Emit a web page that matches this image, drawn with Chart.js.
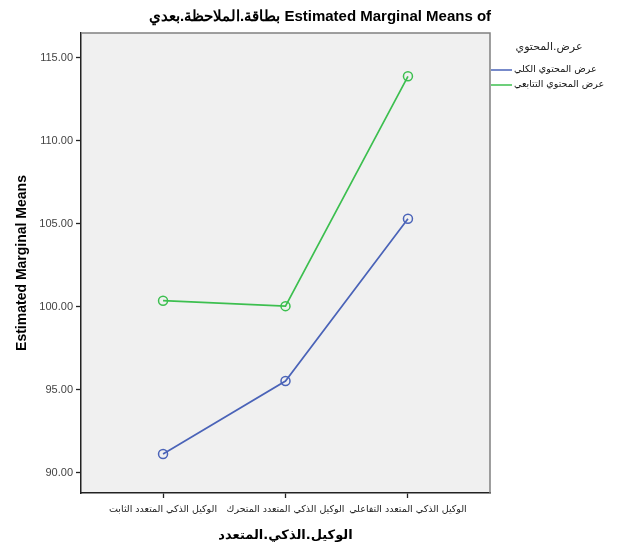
<!DOCTYPE html>
<html>
<head>
<meta charset="utf-8">
<script src="https://cdn.jsdelivr.net/npm/chart.js@4"></script>
<style>
  body { margin: 0; background: #fff; }
  #wrap { width: 619px; height: 547px; }
</style>
</head>
<body>
<div id="wrap"><canvas id="lineChart" width="619" height="547"></canvas></div>
<script>
// data
const categories = ['الوكيل الذكي المتعدد الثابت', 'الوكيل الذكي المتعدد المتحرك', 'الوكيل الذكي المتعدد التفاعلي'];
const seriesNames = ['عرض المحتوي الكلي', 'عرض المحتوي التتابعي'];
const totalValues = [91.12, 95.52, 105.3];
const sequentialValues = [100.36, 100.03, 113.88];
const yTicks = [90, 95, 100, 105, 110, 115];
const chartTitle = 'Estimated Marginal Means of بطاقة.الملاحظة.بعدي';
const legendTitle = 'عرض.المحتوي';
const xTitle = 'الوكيل.الذكي.المتعدد';
const yTitle = 'Estimated Marginal Means';

const colors = ['#4a63b8', '#3cbf4f'];

// plot background, frame, title, legend
const decor = {
  id: 'decor',
  beforeDraw(chart) {
    const a = chart.chartArea, ctx = chart.ctx;
    ctx.save();
    ctx.fillStyle = '#f0f0f0';
    ctx.fillRect(a.left, a.top, a.right - a.left, a.bottom - a.top);
    ctx.restore();
  },
  afterDraw(chart) {
    const a = chart.chartArea, ctx = chart.ctx;
    ctx.save();
    ctx.strokeStyle = '#808080';
    ctx.lineWidth = 1.5;
    ctx.beginPath();
    ctx.moveTo(a.left, a.top);
    ctx.lineTo(a.right, a.top);
    ctx.lineTo(a.right, a.bottom);
    ctx.stroke();

    ctx.fillStyle = '#000';
    ctx.font = 'bold 15px "Liberation Sans", Arial, sans-serif';
    ctx.direction = 'rtl';
    ctx.textAlign = 'center';
    ctx.textBaseline = 'middle';
    ctx.fillText(chartTitle, 320, 17);

    ctx.font = '11px "DejaVu Sans", sans-serif';
    ctx.fillStyle = '#222';
    ctx.fillText(legendTitle, 549, 47);

    ctx.font = '9.5px "DejaVu Sans", sans-serif';
    ctx.textAlign = 'left';
    ctx.direction = 'ltr';
    chart.data.datasets.forEach((ds, i) => {
      const y = 70 + i * 15;
      ctx.strokeStyle = ds.borderColor;
      ctx.lineWidth = 1.5;
      ctx.beginPath();
      ctx.moveTo(491, y);
      ctx.lineTo(512, y);
      ctx.stroke();
      ctx.fillStyle = '#111';
      ctx.fillText(ds.label, 514, y);
    });
    ctx.restore();
  }
};

new Chart(document.getElementById('lineChart'), {
  type: 'line',
  data: {
    datasets: [
      { label: seriesNames[0], data: totalValues.map((v, i) => ({ x: i, y: v })) },
      { label: seriesNames[1], data: sequentialValues.map((v, i) => ({ x: i, y: v })) }
    ].map((d, i) => Object.assign(d, {
      borderColor: colors[i],
      backgroundColor: 'rgba(0,0,0,0)',
      borderWidth: 1.7,
      pointRadius: 4.5,
      pointBorderWidth: 1.5,
      pointBackgroundColor: 'rgba(0,0,0,0)',
      tension: 0
    }))
  },
  options: {
    responsive: false,
    animation: false,
    layout: { padding: { left: 0, top: 33, right: 129, bottom: 0 } },
    plugins: { legend: { display: false }, title: { display: false }, tooltip: { enabled: false } },
    scales: {
      x: {
        type: 'linear',
        min: -0.67,
        max: 2.67,
        afterBuildTicks: s => { s.ticks = categories.map((c, i) => ({ value: i })); },
        afterFit: s => { s.height = 54; },
        ticks: {
          callback: v => categories[v],
          color: '#222',
          font: { size: 9.5, family: '"DejaVu Sans", sans-serif' },
          padding: 6,
          maxRotation: 0,
          autoSkip: false
        },
        grid: { drawOnChartArea: false, tickLength: 5, tickColor: '#222', tickWidth: 1.3 },
        border: { color: '#222', width: 1.5 },
        title: {
          display: true, text: xTitle, color: '#000',
          font: { size: 13, weight: 'bold', family: '"DejaVu Sans", sans-serif' },
          padding: { top: 4, bottom: 4 }
        }
      },
      y: {
        min: 88.77,
        max: 116.49,
        afterBuildTicks: s => { s.ticks = yTicks.map(v => ({ value: v })); },
        afterFit: s => { s.width = 81; },
        ticks: {
          callback: v => v.toFixed(2),
          color: '#444',
          font: { size: 11, family: '"Liberation Sans", Arial, sans-serif' },
          padding: 3
        },
        grid: { drawOnChartArea: false, tickLength: 5, tickColor: '#222', tickWidth: 1.3 },
        border: { color: '#222', width: 1.5 },
        title: {
          display: true, text: yTitle, color: '#000',
          font: { size: 14, weight: 'bold', family: '"Liberation Sans", Arial, sans-serif' },
          padding: { top: 14, bottom: 4 }
        }
      }
    }
  },
  plugins: [decor]
});
</script>
</body>
</html>
